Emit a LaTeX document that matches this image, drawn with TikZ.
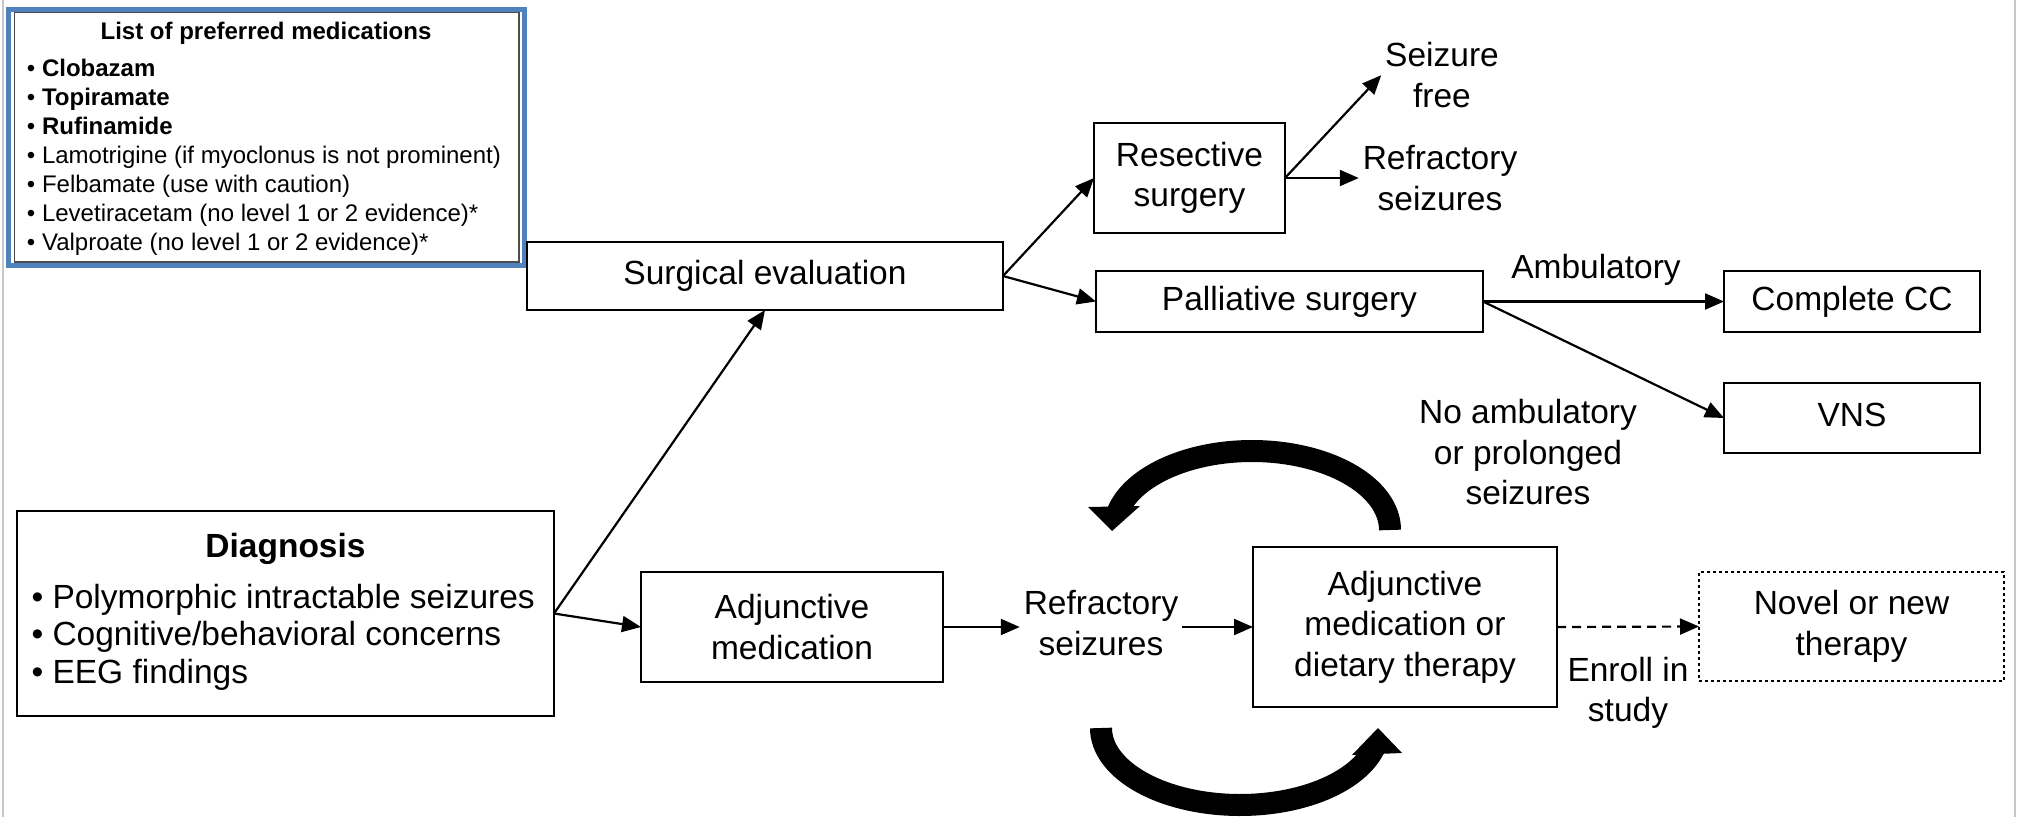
\documentclass[tikz,border=0pt]{standalone}
\usepackage{fontspec}
\setmainfont{Liberation Sans}
\usetikzlibrary{arrows.meta}
\definecolor{frameblue}{RGB}{79,129,189}
\begin{document}
\begin{tikzpicture}[x=1pt,y=-1pt,
  every node/.style={inner sep=0pt, outer sep=0pt},
  mainfont/.style={font=\fontsize{33.5pt}{40.5pt}\selectfont},
  boldfont/.style={font=\fontsize{33.5pt}{40.5pt}\selectfont\bfseries},
  listfont/.style={font=\fontsize{24pt}{29pt}\selectfont},
  box/.style={draw, line width=2.4pt, mainfont, align=center},
  onebox/.style={box, text height=24pt, text depth=7pt},
  dotbox/.style={box, dash pattern=on 3pt off 3pt, line width=2pt},
  lbl/.style={mainfont, align=center, inner sep=4pt},
  conn/.style={line width=2.2pt, -{Triangle[length=19pt,width=16pt]}},
  loopline/.style={line width=22pt},
]
\useasboundingbox (0,0) rectangle (2019,817);
\fill[white] (0,0) rectangle (2019,817);
% thin grey page edges
\draw[black!22, line width=2pt] (2.5,0) -- (2.5,817) (2015,0) -- (2015,817);

% ---------- list of preferred medications ----------
\draw[black!70, line width=1.2pt] (14.5,12) rectangle (519,262);
\node[draw=frameblue, line width=5pt, minimum width=516pt, minimum height=256pt] (meds) at (266,137.5) {};
\node[listfont, font=\fontsize{24pt}{29pt}\selectfont\bfseries, anchor=base] (medtitle) at (266,39) {List of preferred medications};
\foreach \t [count=\i from 0] in {
  {\textbf{Clobazam}},
  {\textbf{Topiramate}},
  {\textbf{Rufinamide}},
  {Lamotrigine (if myoclonus is not prominent)},
  {Felbamate (use with caution)},
  {Levetiracetam (no level 1 or 2 evidence)*},
  {Valproate (no level 1 or 2 evidence)*}}
  \node[listfont, anchor=base west] (med\i) at (27,{76+29.1*\i}) {\textbullet\ \t};

% ---------- diagnosis ----------
\node[box, minimum width=537pt, minimum height=205pt] (diag) at (285.5,613.5) {};
\node[boldfont, anchor=base] (diagtitle) at (285.5,557) {Diagnosis};
\node[mainfont, anchor=base west] (dg1) at (31.5,608) {\textbullet\ Polymorphic intractable seizures};
\node[mainfont, anchor=base west] (dg2) at (31.5,645.5) {\textbullet\ Cognitive/behavioral concerns};
\node[mainfont, anchor=base west] (dg3) at (31.5,683) {\textbullet\ EEG findings};

% ---------- boxes ----------
\node[onebox, minimum width=476pt, minimum height=68pt] (se) at (765,276) {Surgical evaluation};
\node[box, minimum width=191pt, minimum height=110pt] (res) at (1189.5,178) {Resective\\surgery};
\node[onebox, minimum width=387pt, minimum height=61pt] (pal) at (1289.5,301.5) {Palliative surgery};
\node[onebox, minimum width=256pt, minimum height=61pt] (cc) at (1852,301.5) {Complete CC};
\node[onebox, minimum width=256pt, minimum height=70pt] (vns) at (1852,418) {VNS};
\node[box, minimum width=302pt, minimum height=110pt] (adjmed) at (792,627) {Adjunctive\\medication};
\node[box, minimum width=304pt, minimum height=160pt] (adjdiet) at (1405,627) {Adjunctive\\medication or\\dietary therapy};
\node[dotbox, minimum width=305pt, minimum height=109pt] (novel) at (1851.5,626.5) {Novel or new\\therapy};

% ---------- free labels ----------
\node[lbl] (sf) at (1442,75.25) {Seizure\\free};
\node[lbl] (refr1) at (1440,178) {Refractory\\seizures};
\node[lbl] (refr2) at (1101,623) {Refractory\\seizures};
\node[lbl] (noamb) at (1528,452.5) {No ambulatory\\or prolonged\\seizures};
\node[mainfont, anchor=base] (amb) at (1596,278) {Ambulatory};
\node[lbl] (enroll) at (1628,692.75) {Enroll in\\study};

% ---------- connectors ----------
\draw[conn] (diag.east) -- (se.south);
\draw[conn] (diag.east) -- (adjmed.west);
\draw[conn] (se.east) -- (res.west);
\draw[conn] (se.east) -- (pal.west);
\draw[conn] (res.east) -- (sf.west);
\draw[conn] (res.east) -- (refr1.west);
\draw[conn] (pal.east) -- (cc.west);
\draw[conn] (pal.east) -- (vns.west);
\draw[conn] (adjmed.east) -- (adjmed.east -| refr2.west);
\draw[conn] (refr2.east |- adjdiet.west) -- (adjdiet.west);
\draw[conn, dash pattern=on 9pt off 6pt] (adjdiet.east) -- (novel.west);

% ---------- cycling arrows ----------
\draw[loopline] plot[domain=0:167, samples=90] ({1252+138*cos(\x)},{530-79*sin(\x)});
\fill (1088,507) -- (1140,506) -- (1112,531) -- cycle;
\draw[loopline] plot[domain=180:14, samples=90] ({1240+139*cos(\x)},{728+77*sin(\x)});
\fill (1352,755) -- (1402,753) -- (1378,728) -- cycle;
\end{tikzpicture}
\end{document}
